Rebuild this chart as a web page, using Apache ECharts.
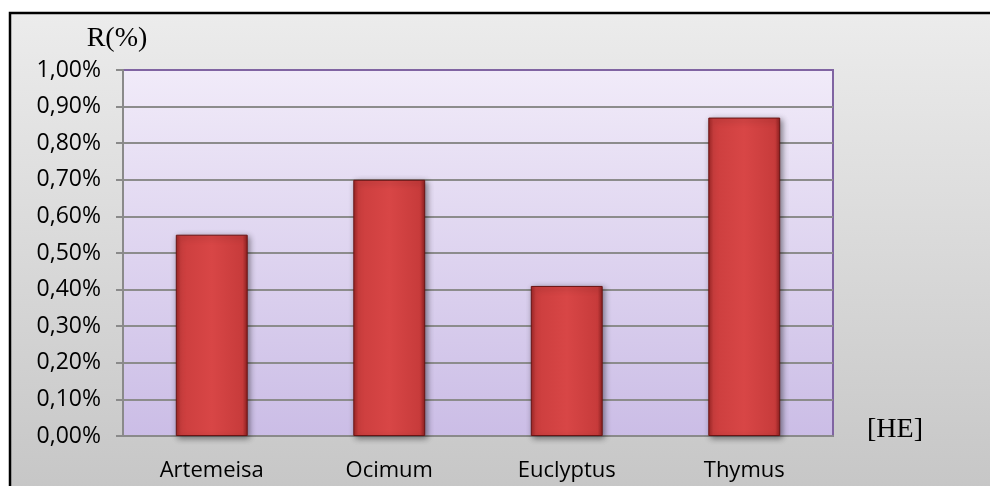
<!DOCTYPE html>
<html>
<head>
<meta charset="utf-8">
<script src="https://cdn.jsdelivr.net/npm/echarts@6/dist/echarts.min.js"></script>
<style>
  html, body { margin: 0; padding: 0; background: #fff; }
  #chart { width: 990px; height: 486px; }
</style>
</head>
<body>
<div id="chart"></div>
<script>
// data
const categories = ['Artemeisa', 'Ocimum', 'Euclyptus', 'Thymus'];
const rates = [0.55, 0.70, 0.41, 0.87];   // R(%)
const yMin = 0;
const yMax = 1;
const yStep = 0.1;

const chart = echarts.init(document.getElementById('chart'));

const fmtPct = v => v.toFixed(2).replace('.', ',') + '%';

const barFill = new echarts.graphic.LinearGradient(0, 0, 1, 0, [
  { offset: 0, color: '#9e2626' },
  { offset: 0.07, color: '#cc3e3e' },
  { offset: 0.5, color: '#d84646' },
  { offset: 0.93, color: '#c73b3b' },
  { offset: 1, color: '#8e2020' }
]);

chart.setOption({
  animation: false,
  graphic: [{
    type: 'rect',
    z: -10,
    shape: { x: 10, y: 13, width: 990, height: 480 },
    style: {
      fill: new echarts.graphic.LinearGradient(0, 0, 0, 1, [
        { offset: 0, color: '#ececec' },
        { offset: 1, color: '#c6c6c6' }
      ]),
      stroke: '#000',
      lineWidth: 2.5
    }
  }],
  grid: {
    left: 123, right: 157, top: 70, bottom: 50,
    show: true,
    backgroundColor: new echarts.graphic.LinearGradient(0, 0, 0, 1, [
      { offset: 0, color: '#f1ebf9' },
      { offset: 1, color: '#cbbde6' }
    ]),
    borderColor: '#8064a2',
    borderWidth: 2
  },
  xAxis: {
    type: 'category',
    data: categories,
    name: '[HE]',
    nameLocation: 'end',
    nameGap: 34,
    nameTextStyle: {
      fontFamily: 'Liberation Serif', fontSize: 28, color: '#000',
      verticalAlign: 'bottom', padding: [0, 0, -8, 0]
    },
    axisLine: { lineStyle: { color: '#8a8a8a', width: 2 } },
    axisTick: { length: 6, lineStyle: { color: '#8a8a8a', width: 2 } },
    axisLabel: {
      margin: 24, color: '#000',
      fontFamily: 'Open Sans', fontSize: 22
    },
    z: 5
  },
  yAxis: {
    type: 'value',
    min: yMin, max: yMax, interval: yStep,
    name: 'R(%)',
    nameLocation: 'end',
    nameGap: 17,
    nameTextStyle: {
      fontFamily: 'Liberation Serif', fontSize: 28, color: '#000',
      padding: [0, 12, 0, 0]
    },
    axisLine: { show: true, lineStyle: { color: '#8a8a8a', width: 2 } },
    axisTick: { show: true, length: 7, lineStyle: { color: '#8a8a8a', width: 2 } },
    axisLabel: {
      margin: 22, color: '#000',
      fontFamily: 'Open Sans', fontSize: 23,
      formatter: fmtPct
    },
    splitLine: { showMaxLine: false, lineStyle: { color: '#8c8c8c', width: 2 } },
    z: 5
  },
  series: [{
    type: 'bar',
    data: rates,
    barWidth: '40.5%',
    z: 6,
    itemStyle: {
      color: barFill,
      borderColor: '#6a1414',
      borderWidth: 1,
      shadowColor: 'rgba(0,0,0,0.45)',
      shadowBlur: 6,
      shadowOffsetX: 2,
      shadowOffsetY: 2
    }
  }]
});
</script>
</body>
</html>
